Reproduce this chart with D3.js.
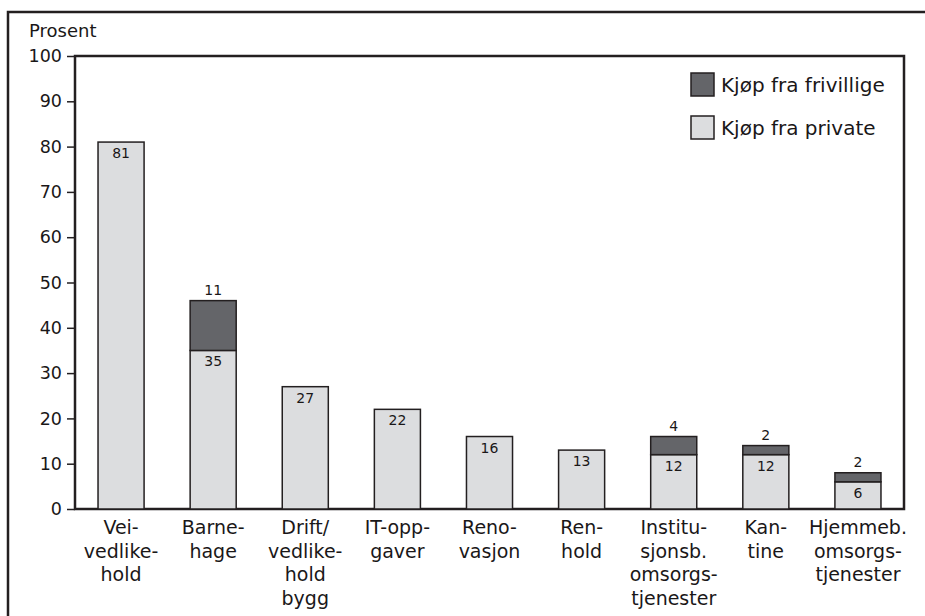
<!DOCTYPE html>
<html>
<head>
<meta charset="utf-8">
<script src="https://cdn.jsdelivr.net/npm/d3@7"></script>
<style>
  body { margin: 0; background: #fff; }
  text { font-family: "DejaVu Sans", sans-serif; fill: #1a1718; }
</style>
</head>
<body>
<div id="chart"></div>
<script>
// data
var categories = [
  ["Vei-", "vedlike-", "hold"],
  ["Barne-", "hage"],
  ["Drift/", "vedlike-", "hold", "bygg"],
  ["IT-opp-", "gaver"],
  ["Reno-", "vasjon"],
  ["Ren-", "hold"],
  ["Institu-", "sjonsb.", "omsorgs-", "tjenester"],
  ["Kan-", "tine"],
  ["Hjemmeb.", "omsorgs-", "tjenester"]
];
var privateValues = [81, 35, 27, 22, 16, 13, 12, 12, 6];
var voluntaryValues = [0, 11, 0, 0, 0, 0, 4, 2, 2];
var yTicks = [0, 10, 20, 30, 40, 50, 60, 70, 80, 90, 100];
var seriesNames = ["Kjøp fra frivillige", "Kjøp fra private"];

var svgWidth = 925;
var svgHeight = 616;

var margin = { top: 56, right: 21, bottom: 107, left: 75 };
var width = svgWidth - margin.left - margin.right;
var height = svgHeight - margin.top - margin.bottom;

var lightGrey = "#dcdddf";
var darkGrey = "#646569";
var ink = "#231f20";

var svg = d3.select("#chart")
  .append("svg")
  .attr("width", svgWidth)
  .attr("height", svgHeight);

// outer frame (runs off the right and bottom of the page)
svg.append("rect")
  .attr("x", 8)
  .attr("y", 12)
  .attr("width", 940)
  .attr("height", 640)
  .attr("fill", "none")
  .attr("stroke", ink)
  .attr("stroke-width", 2.5);

var chartGroup = svg.append("g")
  .attr("transform", `translate(${margin.left}, ${margin.top})`);

var xScale = d3.scaleBand()
  .domain(d3.range(categories.length))
  .range([0, width])
  .paddingInner(0.5)
  .paddingOuter(0.25);

var yScale = d3.scaleLinear()
  .domain([0, 100])
  .range([height, 0]);

// plot box
chartGroup.append("rect")
  .attr("x", 0)
  .attr("y", 0)
  .attr("width", width)
  .attr("height", height)
  .attr("fill", "none")
  .attr("stroke", ink)
  .attr("stroke-width", 2.5);

// y axis
var leftAxis = d3.axisLeft(yScale)
  .tickValues(yTicks)
  .tickSize(8)
  .tickPadding(5);

var yAxis = chartGroup.append("g").call(leftAxis);
yAxis.select(".domain").remove();
yAxis.selectAll(".tick line").attr("stroke", ink).attr("stroke-width", 1.5);
yAxis.selectAll(".tick text")
  .attr("font-size", 17.5)
  .attr("font-family", "'DejaVu Sans', sans-serif")
  .attr("fill", "#1a1718");

svg.append("text")
  .attr("x", 29)
  .attr("y", 37)
  .attr("font-size", 18)
  .text("Prosent");

// bars
var bars = chartGroup.append("g");

bars.selectAll("rect.private")
  .data(privateValues)
  .enter()
  .append("rect")
  .attr("class", "private")
  .attr("x", (d, i) => xScale(i))
  .attr("y", d => yScale(d))
  .attr("width", xScale.bandwidth())
  .attr("height", d => yScale(0) - yScale(d))
  .attr("fill", lightGrey)
  .attr("stroke", ink)
  .attr("stroke-width", 1.5);

// voluntary segments stacked on top, label above
voluntaryValues.forEach(function(v, i) {
  if (v <= 0) return;
  var base = privateValues[i];
  bars.append("rect")
    .attr("x", xScale(i))
    .attr("y", yScale(base + v))
    .attr("width", xScale.bandwidth())
    .attr("height", yScale(base) - yScale(base + v))
    .attr("fill", darkGrey)
    .attr("stroke", ink)
    .attr("stroke-width", 1.5);
  bars.append("text")
    .attr("x", xScale(i) + xScale.bandwidth() / 2)
    .attr("y", yScale(base + v) - 6)
    .attr("text-anchor", "middle")
    .attr("font-size", 14)
    .text(v);
});

// private value labels inside the bars
bars.selectAll("text.pv")
  .data(privateValues)
  .enter()
  .append("text")
  .attr("class", "pv")
  .attr("x", (d, i) => xScale(i) + xScale.bandwidth() / 2)
  .attr("y", d => yScale(d) + 16)
  .attr("text-anchor", "middle")
  .attr("font-size", 14)
  .text(d => d);

// category labels, one text per line
categories.forEach(function(lines, i) {
  chartGroup.append("g")
    .selectAll("text")
    .data(lines)
    .enter()
    .append("text")
    .attr("text-anchor", "middle")
    .attr("font-size", 19)
    .attr("x", xScale(i) + xScale.bandwidth() / 2)
    .attr("y", (d, j) => height + 25 + j * 23.7)
    .text(d => d);
});

// legend
var legend = svg.append("g")
  .attr("transform", "translate(691, 73)");

var legendColors = [darkGrey, lightGrey];
seriesNames.forEach(function(name, i) {
  var row = legend.append("g").attr("transform", `translate(0, ${i * 43})`);
  row.append("rect")
    .attr("width", 23)
    .attr("height", 23)
    .attr("fill", legendColors[i])
    .attr("stroke", ink)
    .attr("stroke-width", 1.5);
  row.append("text")
    .attr("x", 30)
    .attr("y", 19)
    .attr("font-size", 20)
    .text(name);
});
</script>
</body>
</html>
